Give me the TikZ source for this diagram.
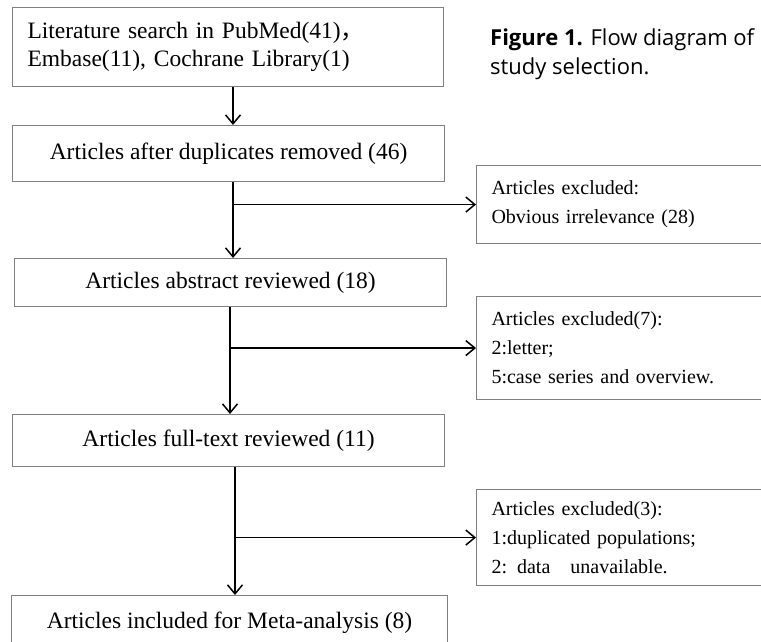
\documentclass[tikz,border=0pt]{standalone}
\usepackage{fontspec}
\setmainfont{Liberation Serif}
\newfontfamily\capfont{Open Sans}
\newfontfamily\cjk{Noto Sans CJK SC}
\usetikzlibrary{arrows.meta}

\tikzset{
  stage/.style={draw=gray, line width=1.1pt, anchor=north west, font=\fontsize{23.5}{28}\selectfont},
  excl/.style={draw=gray, line width=1.1pt, anchor=north west, align=left, text width=300pt, inner xsep=15pt, font=\fontsize{20}{29}\selectfont},
  flow/.style={line width=1.5pt, -{Straight Barb[length=9pt,width=15pt]}}
}

\begin{document}
\begin{tikzpicture}[x=1pt,y=-1pt]

\clip (0,0) rectangle (761,642);
\fill[white] (0,0) rectangle (761,642);

\node[stage, align=left, text width=401pt, inner xsep=15pt, minimum height=79pt] (search) at (12,7) {Literature search in PubMed(41){\cjk ，}\\Embase(11), Cochrane Library(1)};
\node[stage, minimum width=432pt, minimum height=56pt] (dedup) at (12,125) {Articles after duplicates removed (46)};
\node[stage, minimum width=432pt, minimum height=48pt] (abstract) at (14,258) {Articles abstract reviewed (18)};
\node[stage, minimum width=432pt, minimum height=52pt] (fulltext) at (12,414) {Articles full-text reviewed (11)};
\node[stage, minimum width=436pt, minimum height=54pt] (included) at (11,595) {Articles included for Meta-analysis (8)};

\node[excl, minimum height=78pt] (excl1) at (476,165) {Articles excluded:\\Obvious irrelevance (28)};
\node[excl, minimum height=103pt] (excl2) at (476,296) {Articles excluded(7):\\2:letter;\\5:case series and overview.};
\node[excl, minimum height=96pt] (excl3) at (476,489) {Articles excluded(3):\\1:duplicated populations;\\2: data\quad unavailable.};

\node[anchor=north west, inner sep=0pt, align=left, font=\capfont\fontsize{22}{29}\selectfont] (caption) at (490,28) {\textbf{Figure 1.} Flow diagram of\\study selection.};

\coordinate (s1) at (233,0);
\coordinate (s2) at (233,0);
\coordinate (s3) at (230,0);
\coordinate (s4) at (235,0);

\draw[flow] (search.south -| s1) to (dedup.north -| s1);
\draw[flow] (dedup.south -| s2) to (abstract.north -| s2);
\draw[flow] (abstract.south -| s3) to (fulltext.north -| s3);
\draw[flow] (fulltext.south -| s4) to (included.north -| s4);

\draw[flow] (excl1.west -| s2) to (excl1.west);
\draw[flow] (excl2.west -| s3) to (excl2.west);
\draw[flow] (excl3.west -| s4) to (excl3.west);

\end{tikzpicture}
\end{document}
